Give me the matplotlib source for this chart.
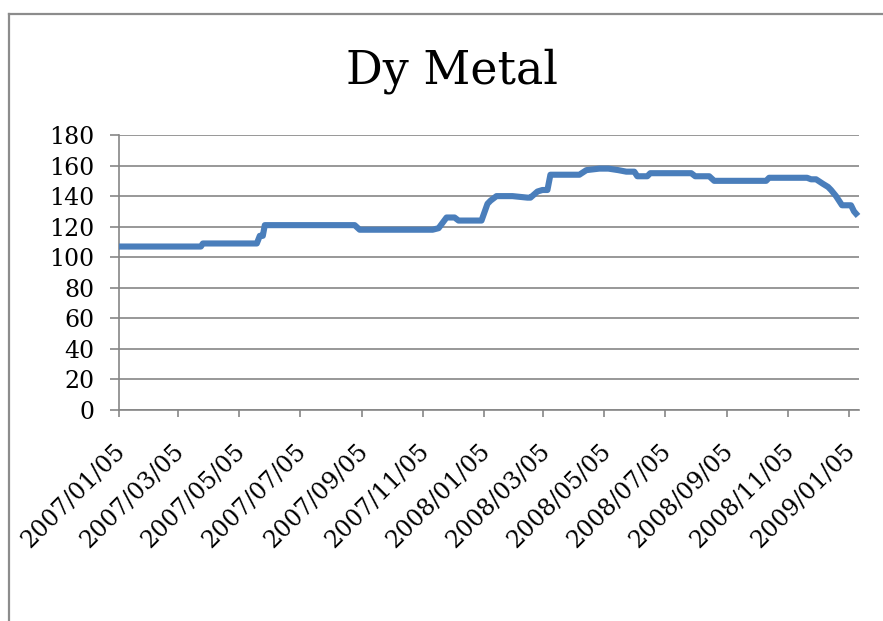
import matplotlib
matplotlib.use("Agg")
import matplotlib.pyplot as plt
import matplotlib.transforms as mtransforms
from matplotlib.lines import Line2D
import pandas as pd

# ---- data ----
dates = [
    "2007-01-05", "2007-03-28", "2007-03-30", "2007-05-23", "2007-05-26",
    "2007-05-29", "2007-05-31", "2007-08-29", "2007-09-03", "2007-11-15",
    "2007-11-21", "2007-11-29", "2007-12-07", "2007-12-11", "2008-01-03",
    "2008-01-09", "2008-01-12", "2008-01-18", "2008-02-03", "2008-02-18",
    "2008-02-21", "2008-02-28", "2008-03-04", "2008-03-09", "2008-03-12",
    "2008-04-10", "2008-04-17", "2008-04-30", "2008-05-09", "2008-05-19",
    "2008-05-27", "2008-06-04", "2008-06-07", "2008-06-17", "2008-06-20",
    "2008-07-31", "2008-08-04", "2008-08-18", "2008-08-23", "2008-10-14",
    "2008-10-17", "2008-11-24", "2008-11-28", "2008-12-03", "2008-12-10",
    "2008-12-15", "2008-12-18", "2008-12-23", "2008-12-29", "2009-01-07",
    "2009-01-10", "2009-01-14",
]
prices = [
    107, 107, 109, 109, 114,
    114, 121, 121, 118, 118,
    119, 126, 126, 124, 124,
    135, 137, 140, 140, 139,
    139, 143, 144, 144, 154,
    154, 157, 158, 158, 157,
    156, 156, 153, 153, 155,
    155, 153, 153, 150, 150,
    152, 152, 151, 151, 148,
    146, 144, 140, 134, 134,
    130, 127,
]
tick_dates = [
    "2007-01-05", "2007-03-05", "2007-05-05", "2007-07-05", "2007-09-05",
    "2007-11-05", "2008-01-05", "2008-03-05", "2008-05-05", "2008-07-05",
    "2008-09-05", "2008-11-05", "2009-01-05",
]
tick_labels = [d.replace("-", "/") for d in tick_dates]
y_ticks = list(range(0, 181, 20))
title = "Dy Metal"

x = pd.to_datetime(dates)
xt = pd.to_datetime(tick_dates)

plt.rcParams["font.family"] = ["DejaVu Serif"]

fig = plt.figure(figsize=(8.83, 6.21), dpi=100)
ax = fig.add_axes([119 / 883, 1 - 410 / 621, (859 - 119) / 883, (410 - 135) / 621])

grid_c = "#868686"
ax.plot(x, prices, color="#4A7EBB", lw=4.4, solid_joinstyle="round",
        solid_capstyle="butt", zorder=3, clip_on=False)

ax.set_ylim(0, 180)
ax.set_yticks(y_ticks)
ax.set_xlim(pd.Timestamp("2007-01-05"), pd.Timestamp("2009-01-15"))
ax.set_xticks(xt)
ax.set_xticklabels(tick_labels, rotation=45, ha="right", va="center",
                   rotation_mode="anchor", fontsize=17)
ax.tick_params(axis="y", labelsize=17, length=6.5, width=1.2, color=grid_c, pad=11)
ax.tick_params(axis="x", length=5, width=1.2, color=grid_c, pad=22)

shift = mtransforms.ScaledTranslation(3 / 100, 0, fig.dpi_scale_trans)
for lbl in ax.get_xticklabels():
    lbl.set_transform(lbl.get_transform() + shift)

ax.grid(axis="y", color=grid_c, lw=1.2)
ax.set_axisbelow(True)
for s in ("top", "right"):
    ax.spines[s].set_visible(False)
for s in ("left", "bottom"):
    ax.spines[s].set_color(grid_c)
    ax.spines[s].set_linewidth(1.2)

fig.text(452 / 883, 1 - 83 / 621, title, ha="center", va="baseline", fontsize=33)

# chart-area border (top and left visible)
fig.add_artist(Line2D([9 / 883, 1.0], [1 - 14 / 621, 1 - 14 / 621],
                      transform=fig.transFigure, color="#8c8c8c", lw=1.6))
fig.add_artist(Line2D([9 / 883, 9 / 883], [1 - 14 / 621, 0.0],
                      transform=fig.transFigure, color="#8c8c8c", lw=1.6))

fig.savefig("out.png", dpi=100)
